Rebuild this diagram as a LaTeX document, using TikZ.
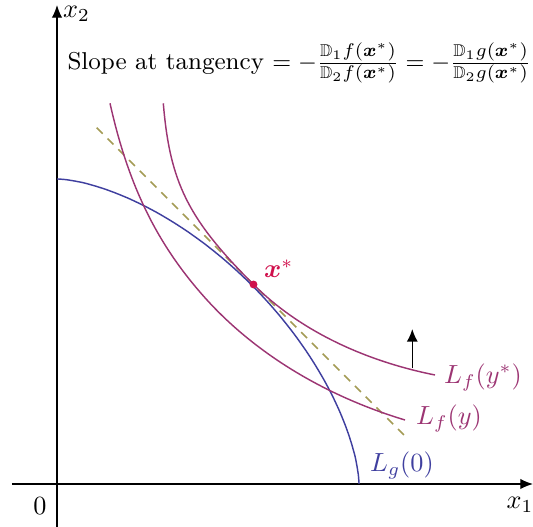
\documentclass[tikz,border=0pt]{standalone}
\usepackage{amsmath,amssymb,bm}
\usetikzlibrary{arrows.meta,positioning}
\definecolor{levelpurple}{HTML}{9C3573}
\definecolor{curveblue}{HTML}{3F3F9F}
\definecolor{tangolive}{HTML}{A39B55}
\definecolor{pointred}{HTML}{D0104C}

\begin{document}
\begin{tikzpicture}[x=0.0134cm,y=0.0134cm,
  axis/.style={-{Latex[length=1.7mm,width=1.4mm]},line width=0.5pt},
  levelf/.style={draw=levelpurple,line width=0.55pt},
  levelg/.style={draw=curveblue,line width=0.55pt},
  tangent/.style={draw=tangolive,line width=0.6pt,dash pattern=on 3.2pt off 2.6pt},
  uparrow/.style={-{Latex[length=1.7mm,width=1.5mm]},line width=0.6pt},
  lbl/.style={inner sep=1pt}
]
\useasboundingbox (-57,-43) rectangle (476,484);
% axes
\coordinate (xw) at (-45,0);
\coordinate (xe) at (476,0);
\coordinate (ys) at (0,-43);
\coordinate (yn) at (0,479);
\draw[axis] (xw) -- (xe);
\draw[axis] (ys) -- (yn);
\node[lbl,anchor=west] (xtwo) at (3,470) {$x_2$};
\node[lbl] (xone) at (463,-21) {$x_1$};
\node[lbl] (orig) at (-17,-22) {$0$};
% tangent line
\coordinate (xstar) at (196.5,199.5);
\coordinate (tA) at (39.7,356.2);
\coordinate (tB) at (351.3,44.6);
\draw[tangent] (tA) -- (tB);
% constraint curve
\draw[levelg] plot[domain=0.01:89.99,samples=120,variable=\t] ({302*cos(\t)^1.25},{305*sin(\t)^1.25});
% level sets of f
\draw[levelf] (53,380.7) .. controls (71.6,297.3) and (100.7,238.3) .. (150,184)
  .. controls (199.3,129.9) and (268.6,87.9) .. (348,64);
\draw[levelf] (106.3,380.7) .. controls (112.9,301.3) and (131,265) .. (xstar)
  .. controls (240.6,155.4) and (304.1,123.8) .. (378,109);
% direction of increase
\coordinate (arrlo) at (355.3,115.7);
\coordinate (arrhi) at (355.3,155);
\draw[uparrow] (arrlo) -- (arrhi);
% tangency point
\fill[pointred] (xstar) circle (1.5pt);
\node[lbl,text=pointred,anchor=south west] (xstarlbl) at (204,203) {$\boldsymbol{x}^{*}$};
% labels
\node[lbl,text=levelpurple,anchor=west] (lfstar) at (384,107) {$L_f(y^*)$};
\node[lbl,text=levelpurple,anchor=west] (lfy) at (356,66) {$L_f(y)$};
\node[lbl,text=curveblue,anchor=west] (lg) at (310,19) {$L_g(0)$};
\node[lbl,anchor=east,font=\fontsize{9.3pt}{11pt}\selectfont] (slope) at (477,421) {Slope at tangency $= -\frac{\mathbb{D}_1 f(\boldsymbol{x}^*)}{\mathbb{D}_2 f(\boldsymbol{x}^*)} = -\frac{\mathbb{D}_1 g(\boldsymbol{x}^*)}{\mathbb{D}_2 g(\boldsymbol{x}^*)}$};
\end{tikzpicture}
\end{document}
